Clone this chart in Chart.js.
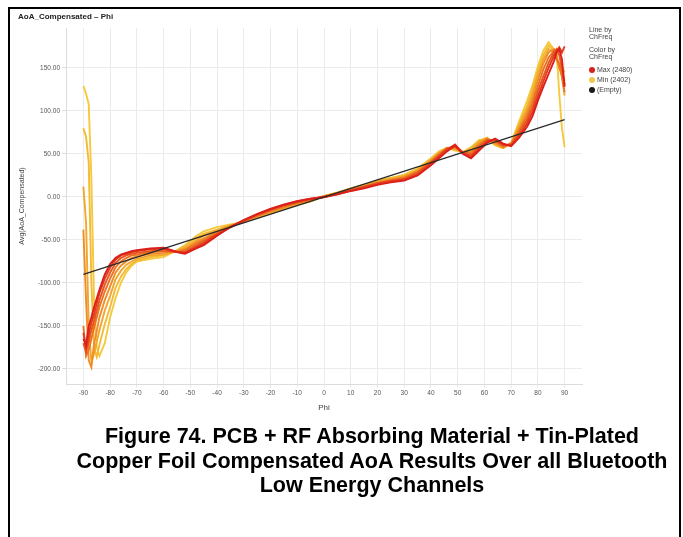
<!DOCTYPE html>
<html><head><meta charset="utf-8">
<script src="https://cdn.jsdelivr.net/npm/chart.js@4.4.0/dist/chart.umd.min.js"></script>
<style>
html,body{margin:0;padding:0;background:#fff;}
body{width:683px;height:537px;position:relative;overflow:hidden;font-family:"Liberation Sans",Arial,sans-serif;}
#frame{position:absolute;left:8px;top:7px;width:673px;height:540px;border:2px solid #000;border-bottom:none;box-sizing:border-box;}
#wrap{position:absolute;left:0;top:0;width:683px;height:420px;}
#title{position:absolute;left:18px;top:12px;font-size:8px;font-weight:bold;color:#222;white-space:nowrap;}
.leg{position:absolute;left:589px;font-size:7px;color:#444;line-height:7.4px;white-space:nowrap;}
.dot{position:absolute;left:589px;width:6px;height:6px;border-radius:50%;}
.dl{position:absolute;left:597px;font-size:7px;color:#444;white-space:nowrap;}
#caption{position:absolute;left:40px;width:664px;top:424px;text-align:center;font-size:21.5px;font-weight:bold;line-height:24.5px;color:#000;}
</style></head>
<body>
<div id="wrap"><canvas id="c" width="683" height="420"></canvas></div>
<div id="frame"></div>
<div id="title">AoA_Compensated – Phi</div>
<div class="leg" style="top:26px">Line by<br>ChFreq</div>
<div class="leg" style="top:46px">Color by<br>ChFreq</div>
<div class="dot" style="top:67px;background:#d8201c"></div><div class="dl" style="top:66px">Max (2480)</div>
<div class="dot" style="top:77px;background:#f2c84b"></div><div class="dl" style="top:76px">Min (2402)</div>
<div class="dot" style="top:87px;background:#1a1a1a"></div><div class="dl" style="top:86px">(Empty)</div>
<div id="caption">Figure 74. PCB + RF Absorbing Material + Tin-Plated<br>Copper Foil Compensated AoA Results Over all Bluetooth<br>Low Energy Channels</div>
<script>
const phi = [-90,-89,-88,-87,-86,-85,-84,-82,-80,-78,-76,-74,-72,-70,-65,-60,-55,-52,-48,-45,-40,-35,-30,-25,-20,-15,-10,-5,0,5,10,15,20,25,30,35,40,43,46,49,52,55,58,61,64,67,70,73,76,78,80,82,84,86,87,88,89,90];

const aoa2480 = [-165,-172,-150,-140,-128,-118,-108,-90,-78,-71,-67,-65,-63,-62,-60,-59,-64,-66,-60,-56,-45,-35,-27,-20,-14,-9,-5,-2,0,3,7,10,14,17,19,25,37,45,53,60,50,45,54,63,68,62,59,69,82,94,112,128,143,158,168,172,160,128];
const aoa2470 = [-158,-176,-160,-146,-136,-124,-112,-95,-82,-73,-68,-66,-64,-63,-61,-60,-64,-65,-59,-54,-44,-35,-27,-20,-14,-9,-5,-2,0,3,7,11,15,18,20,26,39,47,55,61,51,47,56,64,67,61,60,71,86,99,117,134,150,164,170,174,168,175];
const aoa2458 = [-170,-180,-168,-155,-144,-132,-120,-102,-88,-77,-71,-68,-66,-65,-63,-62,-64,-64,-57,-52,-43,-35,-28,-21,-15,-10,-6,-3,0,4,8,12,16,19,21,28,40,48,56,59,52,49,58,66,66,60,61,74,90,104,123,140,156,168,172,165,150,130];
const aoa2446 = [-150,-185,-178,-165,-152,-140,-128,-110,-95,-82,-75,-71,-68,-67,-64,-63,-64,-62,-55,-50,-42,-35,-28,-22,-16,-11,-7,-3,0,4,8,12,16,19,22,29,41,49,57,58,52,51,60,67,65,59,62,77,94,109,129,148,162,170,160,155,140,122];
const aoa2434 = [-38,-120,-190,-198,-170,-156,-140,-120,-104,-88,-80,-75,-71,-69,-66,-65,-63,-61,-53,-48,-41,-34,-28,-22,-17,-12,-7,-3,1,4,8,12,17,20,23,30,42,50,57,57,52,53,62,68,63,58,62,79,98,114,136,155,168,172,165,150,145,135];
const aoa2424 = [12,-30,-150,-192,-182,-168,-155,-132,-115,-96,-86,-79,-75,-72,-68,-67,-63,-59,-51,-45,-39,-33,-29,-23,-18,-13,-8,-4,1,5,9,13,18,21,24,31,43,51,57,56,52,55,64,68,62,57,62,82,102,120,142,160,172,168,160,150,140,118];
const aoa2412 = [80,70,40,-100,-175,-186,-172,-148,-128,-106,-93,-84,-78,-74,-70,-68,-62,-57,-48,-43,-38,-33,-29,-24,-19,-14,-9,-5,1,5,10,14,19,22,25,32,44,52,57,55,52,57,65,69,61,57,63,85,106,125,147,165,176,170,162,155,150,145];
const aoa2402 = [129,120,108,20,-120,-175,-185,-170,-140,-118,-100,-88,-80,-75,-72,-70,-62,-56,-46,-40,-35,-32,-29,-24,-19,-14,-9,-5,1,5,10,14,19,22,26,33,45,53,57,54,52,58,66,68,60,57,63,88,112,130,152,170,180,172,168,120,80,58];

const channels = [2480, 2470, 2458, 2446, 2434, 2424, 2412, 2402];
const channelValues = [aoa2480, aoa2470, aoa2458, aoa2446, aoa2434, aoa2424, aoa2412, aoa2402];
const channelColors = ['#dc1f1a','#e23a1c','#e7561f','#eb7222','#ef8d26','#f2a62c','#f4ba33','#f5c93c'];

const idealPhi = [-90, 90];
const idealAoA = [-90, 90];

const xTicks = [-90,-80,-70,-60,-50,-40,-30,-20,-10,0,10,20,30,40,50,60,70,80,90];
const yTicks = [-200,-150,-100,-50,0,50,100,150];

const datasets = [{
  label: '(Empty)',
  data: idealPhi.map((p, i) => ({x: p, y: idealAoA[i]})),
  borderColor: '#2a2a2a', borderWidth: 1.3, pointRadius: 0, order: 0
}];
channels.forEach((ch, k) => {
  datasets.push({
    label: String(ch),
    data: phi.map((p, i) => ({x: p, y: channelValues[k][i]})),
    borderColor: channelColors[k], borderWidth: 1.9, pointRadius: 0,
    tension: 0, order: k + 1
  });
});

const tickFont = {family: '"Liberation Sans", Arial, sans-serif', size: 6.5};
new Chart(document.getElementById('c'), {
  type: 'line',
  data: {datasets},
  options: {
    responsive: false, devicePixelRatio: 1, animation: false,
    layout: {padding: {left: 0, right: 101, top: 28, bottom: 0}},
    plugins: {legend: {display: false}, tooltip: {enabled: false}},
    scales: {
      x: {
        type: 'linear', min: -96.5, max: 96.5,
        afterFit: s => { s.height = 36; },
        afterBuildTicks: s => { s.ticks = xTicks.map(v => ({value: v})); },
        ticks: {font: tickFont, color: '#555', padding: 1, maxRotation: 0, autoSkip: false, callback: v => String(v)},
        grid: {color: '#ebebeb', tickColor: '#ebebeb', tickLength: 4},
        border: {color: '#dcdcdc'},
        title: {display: true, text: 'Phi', color: '#444', font: {family: '"Liberation Sans", Arial, sans-serif', size: 8}, padding: {top: 0, bottom: 7}}
      },
      y: {
        type: 'linear', min: -217.5, max: 196.5,
        afterFit: s => { s.width = 66; },
        afterBuildTicks: s => { s.ticks = yTicks.map(v => ({value: v})); },
        ticks: {font: tickFont, color: '#555', padding: 2, callback: v => Number(v).toFixed(2)},
        grid: {color: '#ebebeb', tickColor: '#cfe0ef', tickLength: 4},
        border: {color: '#dcdcdc'},
        title: {display: true, text: 'Avg(AoA_Compensated)', color: '#444', font: {family: '"Liberation Sans", Arial, sans-serif', size: 7}, padding: {top: 18, bottom: 0}}
      }
    }
  }
});
</script>
</body></html>
